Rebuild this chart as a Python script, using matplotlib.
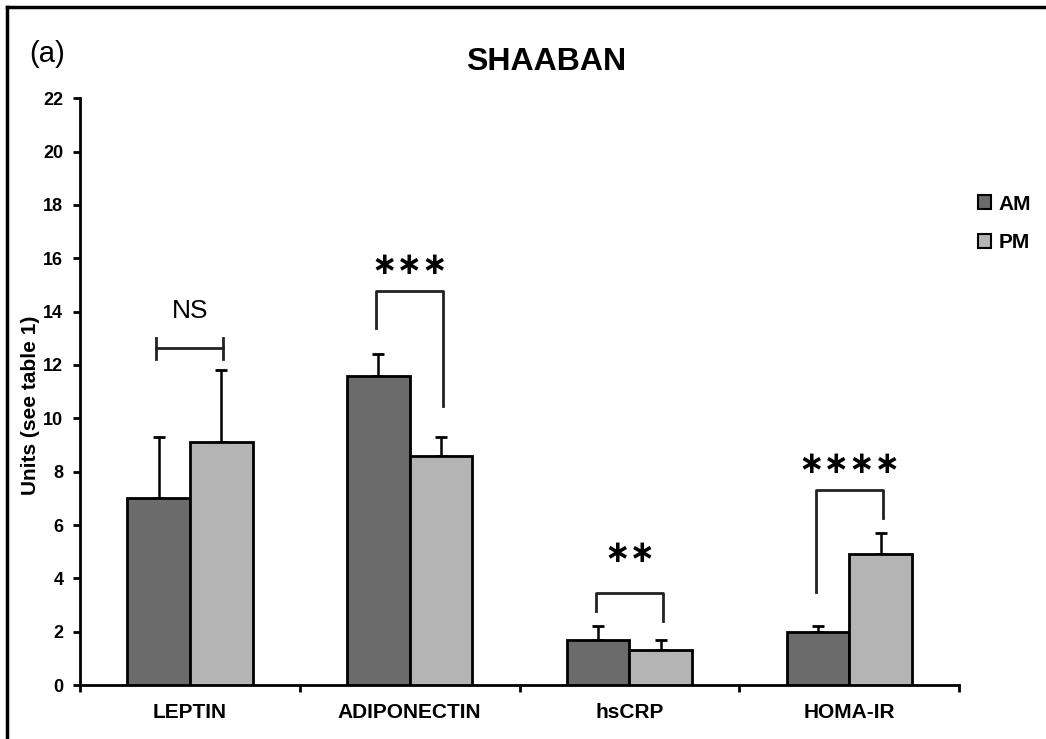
import matplotlib
matplotlib.use('Agg')
import matplotlib.pyplot as plt
import numpy as np
from matplotlib.lines import Line2D
from matplotlib.patches import Patch

plt.rcParams['font.family'] = ['Liberation Sans', 'DejaVu Sans']

categories = ['LEPTIN', 'ADIPONECTIN', 'hsCRP', 'HOMA-IR']
am_values = [7.0, 11.6, 1.7, 2.0]
am_err = [2.3, 0.8, 0.5, 0.2]
pm_values = [9.1, 8.6, 1.3, 4.9]
pm_err = [2.7, 0.7, 0.4, 0.8]

# significance brackets: top, left leg bottom, right leg bottom, label, label y
sig_top = [12.63, 14.77, 3.45, 7.31]
sig_left = [None, 13.4, 2.77, 3.49]
sig_right = [None, 10.46, 2.4, 6.26]
sig_labels = ['NS', '\u2217\u2217\u2217', '\u2217\u2217', '\u2217\u2217\u2217\u2217']
sig_label_y = [13.76, 15.2, 4.37, 7.74]

am_color = '#6b6b6b'
pm_color = '#b4b4b4'

fig = plt.figure(figsize=(10.46, 7.39), dpi=100)
ax = fig.add_axes([0.0765, 0.073, 0.8405, 0.794])

x = np.arange(len(categories))
w = 0.285
ax.bar(x - w / 2, am_values, w, color=am_color, edgecolor='black', linewidth=2, zorder=3)
ax.bar(x + w / 2, pm_values, w, color=pm_color, edgecolor='black', linewidth=2, zorder=3)
ax.errorbar(x - w / 2, am_values, yerr=[np.zeros(4), am_err], fmt='none', ecolor='black',
            elinewidth=1.8, capsize=4, capthick=2, zorder=2)
ax.errorbar(x + w / 2, pm_values, yerr=[np.zeros(4), pm_err], fmt='none', ecolor='black',
            elinewidth=1.8, capsize=4, capthick=2, zorder=2)

bc = '#222222'
for i in range(len(categories)):
    xl = x[i] - w / 2 - 0.01
    xr = x[i] + w / 2 + 0.01
    top = sig_top[i]
    if sig_left[i] is None:
        ax.plot([xl, xr], [top, top], color=bc, lw=2)
        ax.plot([xl, xl], [top - 0.4, top + 0.4], color=bc, lw=2)
        ax.plot([xr, xr], [top - 0.4, top + 0.4], color=bc, lw=2)
        ax.text(x[i], sig_label_y[i], sig_labels[i], ha='center', va='baseline', fontsize=19)
    else:
        ax.plot([xl, xl, xr, xr], [sig_left[i], top, top, sig_right[i]], color=bc, lw=2)
        ax.text(x[i], sig_label_y[i], sig_labels[i], ha='center', va='bottom', fontsize=22,
                fontweight='bold', family=['DejaVu Sans'])

ax.set_xlim(-0.5, 3.5)
ax.set_ylim(0, 22)
ax.set_yticks(np.arange(0, 23, 2))
ax.set_xticks([-0.5, 0.5, 1.5, 2.5, 3.5])
ax.set_xticklabels([])
ax.set_xticks(x, minor=True)
ax.set_xticklabels(categories, minor=True, fontsize=15, fontweight='bold')
ax.tick_params(axis='x', which='minor', length=0, pad=13)
ax.tick_params(axis='x', which='major', direction='out', length=5, width=2)
ax.tick_params(axis='y', direction='out', length=5, width=2, labelsize=13, pad=7)
for lab in ax.get_yticklabels():
    lab.set_fontweight('bold')
for s in ['top', 'right']:
    ax.spines[s].set_visible(False)
for s in ['left', 'bottom']:
    ax.spines[s].set_linewidth(2)
ax.set_ylabel('Units (see table 1)', fontsize=15, fontweight='bold', va='center')
ax.yaxis.set_label_coords(-0.056, 0.477)

fig.text(0.522, 0.916, 'SHAABAN', ha='center', va='center', fontsize=23, fontweight='bold')
fig.text(0.028, 0.927, '(a)', ha='left', va='center', fontsize=21)

handles = [Patch(facecolor=am_color, edgecolor='black', linewidth=1.5, label='AM'),
           Patch(facecolor=pm_color, edgecolor='black', linewidth=1.5, label='PM')]
fig.legend(handles=handles, loc='upper left', bbox_to_anchor=(0.917, 0.762), frameon=False,
           handlelength=0.65, handleheight=0.65, handletextpad=0.35, labelspacing=0.95,
           prop={'weight': 'bold', 'size': 15})

fig.add_artist(Line2D([0.0065, 0.0065], [0, 0.99], transform=fig.transFigure, color='black', lw=2.5))
fig.add_artist(Line2D([0.0065, 1.0], [0.99, 0.99], transform=fig.transFigure, color='black', lw=2.5))

fig.savefig('out.png', dpi=100)
